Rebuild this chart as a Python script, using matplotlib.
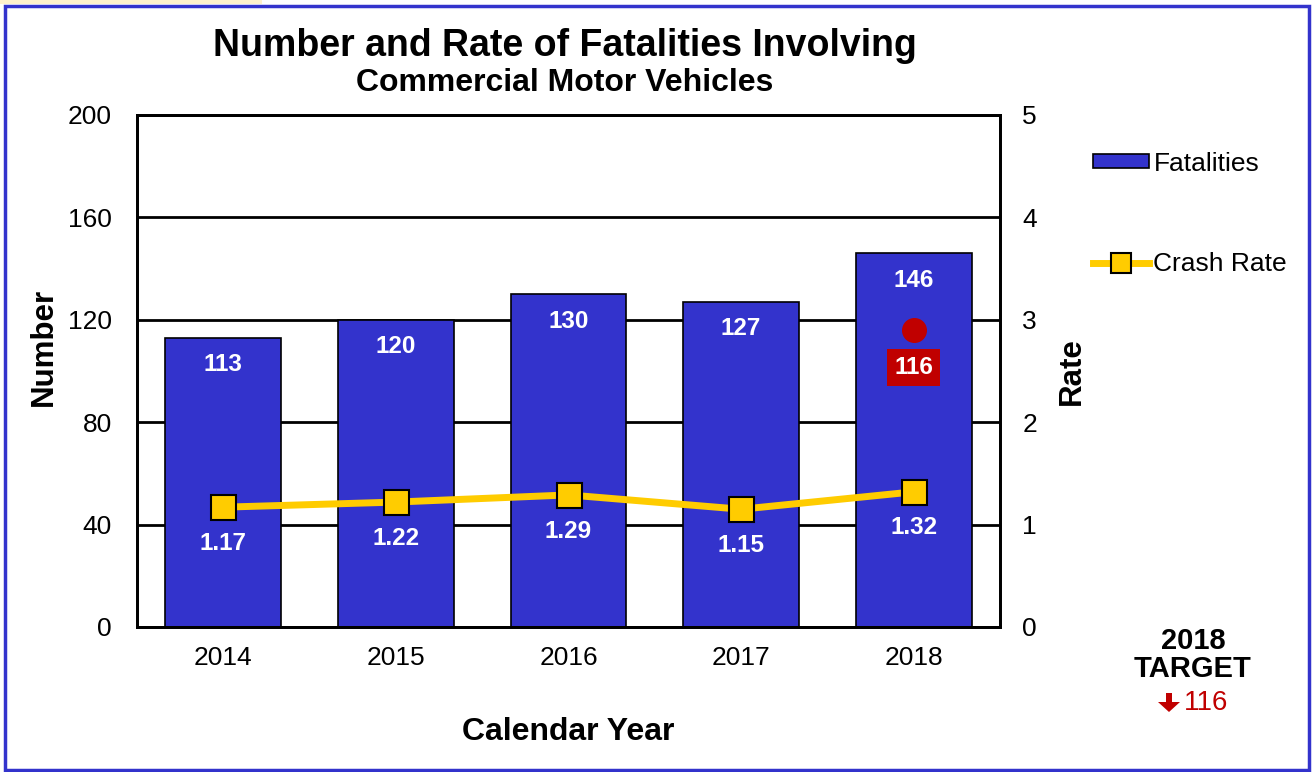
import matplotlib.pyplot as plt
from matplotlib.lines import Line2D
from matplotlib.patches import Patch, Rectangle

plt.rcParams["font.family"] = ["Liberation Sans", "DejaVu Sans"]

# data
years = ["2014", "2015", "2016", "2017", "2018"]
fatalities = [113, 120, 130, 127, 146]
crash_rate = [1.17, 1.22, 1.29, 1.15, 1.32]
target_year = "2018"
target_value = 116

BLUE = "#3333CC"
GOLD = "#FFCC00"
RED = "#C00000"

W, H = 1313, 772


def fx(px):
    return px / W


def fy(py):
    return 1 - py / H


fig = plt.figure(figsize=(13.13, 7.72), dpi=100)
ax = fig.add_axes([fx(137), fy(627), 863 / W, 512 / H])
ax2 = ax.twinx()

x = list(range(len(years)))

# gridlines behind bars
ax.set_axisbelow(True)
ax.yaxis.grid(True, color="black", linewidth=2)

ax.bar(x, fatalities, width=0.67, color=BLUE, edgecolor="black",
       linewidth=1.2, zorder=2)
for xi, v in zip(x, fatalities):
    ax.annotate(str(v), (xi, v), xytext=(0, -19.5), textcoords="offset points",
                ha="center", va="center", color="white", fontsize=17.5,
                fontweight="bold", zorder=5)

# target point
ti = years.index(target_year)
ax.plot([ti], [target_value], "o", color=RED, markersize=17, zorder=6)
ax.annotate(str(target_value), (ti, target_value), xytext=(0, -27),
            textcoords="offset points", ha="center", va="center",
            color="white", fontsize=17.5, fontweight="bold", zorder=6,
            bbox=dict(boxstyle="square,pad=0.28", facecolor=RED, edgecolor="none"))

ax.set_xlim(-0.5, len(years) - 0.5)
ax.set_ylim(0, 200)
ax.set_yticks([0, 40, 80, 120, 160, 200])
ax.set_xticks(x)
ax.set_xticklabels(years)
ax.tick_params(axis="both", length=0, labelsize=19)
ax.tick_params(axis="y", pad=18)
ax.tick_params(axis="x", pad=14)
ax.set_ylabel("Number", fontsize=22.5, fontweight="bold")
ax.yaxis.set_label_coords((44 - 137) / 863, (627 - 347) / 512)
ax.set_xlabel("Calendar Year", fontsize=23, fontweight="bold")
ax.xaxis.set_label_coords(0.5, (627 - 732) / 512)
ax.xaxis.label.set_va("center")
ax.yaxis.label.set_va("center")

# crash rate line
ax2.plot(x, crash_rate, color=GOLD, linewidth=5, marker="s", markersize=18,
         markerfacecolor=GOLD, markeredgecolor="black", markeredgewidth=1.5,
         zorder=4)
for xi, r in zip(x, crash_rate):
    ax2.annotate(f"{r:.2f}", (xi, r), xytext=(0, -26), textcoords="offset points",
                 ha="center", va="center", color="white", fontsize=17.5,
                 fontweight="bold", zorder=5)
ax2.set_ylim(0, 5)
ax2.set_yticks([0, 1, 2, 3, 4, 5])
ax2.tick_params(axis="y", length=0, labelsize=19, pad=16)
ax2.set_ylabel("Rate", fontsize=22.5, fontweight="bold")
ax2.yaxis.set_label_coords((1072 - 137) / 863, (627 - 371) / 512)
ax2.yaxis.label.set_va("center")

for a in (ax, ax2):
    for s in a.spines.values():
        s.set_linewidth(2)
        s.set_color("black")

# title
fig.text(fx(565), fy(46), "Number and Rate of Fatalities Involving",
         ha="center", va="center", fontsize=27, fontweight="bold")
fig.text(fx(565), fy(83), "Commercial Motor Vehicles",
         ha="center", va="center", fontsize=23, fontweight="bold")

# legend
handles = [
    Patch(facecolor=BLUE, edgecolor="black", linewidth=1.2),
    Line2D([0], [0], color=GOLD, linewidth=5, marker="s", markersize=14,
           markerfacecolor=GOLD, markeredgecolor="black", markeredgewidth=1.5),
]
fig.legend(handles, ["Fatalities", "Crash Rate"], loc="upper left",
           bbox_to_anchor=(fx(1069), fy(128)), frameon=False,
           fontsize=19, labelspacing=2.9, handlelength=2.15,
           handleheight=0.45, handletextpad=0.15)

# target note
fig.text(fx(1193), fy(641), "2018", ha="center", va="center",
         fontsize=21, fontweight="bold")
fig.text(fx(1193), fy(669), "TARGET", ha="center", va="center",
         fontsize=21, fontweight="bold")
fig.text(fx(1184), fy(703), str(target_value), ha="left",
         va="center", fontsize=20, color=RED)
arrow_pts = [(1166, 693), (1172, 693), (1172, 702), (1180, 702),
             (1169, 712), (1158, 702), (1166, 702)]
fig.patches.append(plt.Polygon(
    [(fx(px), fy(py)) for px, py in arrow_pts],
    closed=True, transform=fig.transFigure, facecolor=RED, edgecolor="none"))

# outer frame
fig.patches.append(Rectangle((0, fy(4)), fx(262), 4 / H,
                             transform=fig.transFigure, facecolor="#FFF2CC",
                             edgecolor="none"))
fig.patches.append(Rectangle((fx(5), 2 / H), 1304 / W, 764 / H,
                             transform=fig.transFigure, facecolor="none",
                             edgecolor=BLUE, linewidth=2.5))

fig.savefig("out.png", dpi=100)
